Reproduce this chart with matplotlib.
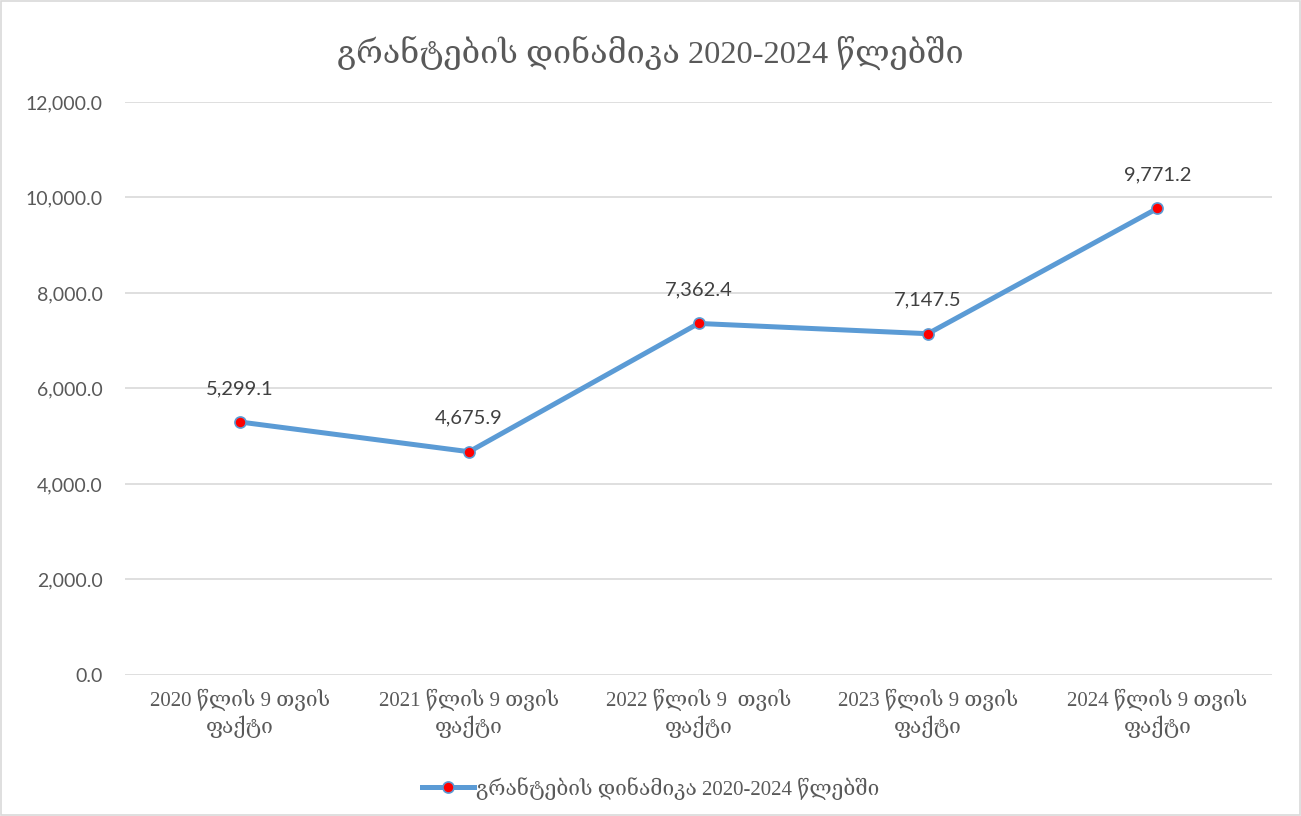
import numpy as np
import matplotlib.pyplot as plt
from matplotlib.patches import Rectangle

# data
categories = ["2020 წლის 9 თვის\nფაქტი", "2021 წლის 9 თვის\nფაქტი",
              "2022 წლის 9  თვის\nფაქტი", "2023 წლის 9 თვის\nფაქტი",
              "2024 წლის 9 თვის\nფაქტი"]
values = [5299.1, 4675.9, 7362.4, 7147.5, 9771.2]
yticks = [0, 2000, 4000, 6000, 8000, 10000, 12000]
title = "გრანტების დინამიკა 2020-2024 წლებში"

geo_font = ['Liberation Serif', 'DejaVu Serif', 'DejaVu Sans']
num_font = ['Lato', 'DejaVu Sans']
txt_col = '#595959'
line_col = '#5B9BD5'

fig = plt.figure(figsize=(13.01, 8.16), dpi=100)
ax = fig.add_axes([0.0961, 0.1728, 0.8816, 0.7022])

x = np.arange(len(values))
ax.plot(x, values, color=line_col, lw=3.6, marker='o', ms=8,
        mfc='red', mec=line_col, mew=1.2, label=title, zorder=3)

for xi, v in zip(x, values):
    ax.annotate(f"{v:,.1f}", (xi, v), xytext=(0, 18), textcoords='offset points',
                ha='center', va='bottom', fontsize=14.5, color='#404040', family=num_font)

ax.set_xlim(-0.5, len(values) - 0.5)
ax.set_ylim(0, 12000)
ax.set_yticks(yticks)
ax.set_yticklabels([f"{t:,.1f}" for t in yticks], family=num_font, fontsize=14, color=txt_col)
ax.set_xticks(x)
ax.set_xticklabels(categories, family=geo_font, fontsize=15, color=txt_col, linespacing=1.25)
ax.tick_params(length=0, pad=16)
ax.tick_params(axis='x', pad=10)
ax.grid(axis='y', color='#D9D9D9', lw=1.2)
ax.set_axisbelow(True)
for s in ax.spines.values():
    s.set_visible(False)

fig.text(0.5, 0.935, title, ha='center', va='center', fontsize=23.3,
         color=txt_col, family=geo_font)

leg = fig.legend(loc='center', bbox_to_anchor=(0.5, 0.034), frameon=False,
                 prop={'family': geo_font, 'size': 15}, handlelength=2.5,
                 handletextpad=0.1)
for t in leg.get_texts():
    t.set_color(txt_col)

fig.patches.append(Rectangle((0.001, 0.001), 0.998, 0.998, transform=fig.transFigure,
                             fill=False, ec='#D9D9D9', lw=1.2))

fig.savefig('out.png', dpi=100, facecolor='white')
